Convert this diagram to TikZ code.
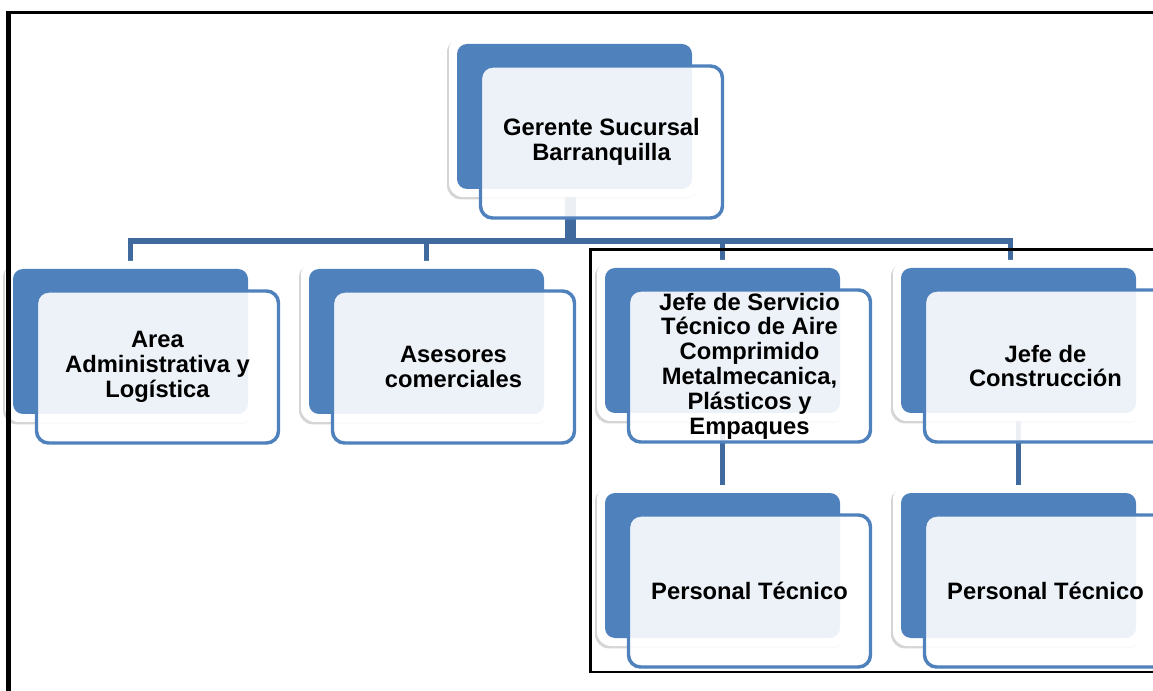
\documentclass[tikz,border=0pt]{standalone}
\usepackage{fontspec}
\setmainfont{Liberation Sans}
\usetikzlibrary{shadows}
\definecolor{accent}{RGB}{79,129,189}
\definecolor{linkblue}{RGB}{64,106,158}
\pgfdeclarelayer{bg}
\pgfsetlayers{bg,main}
\tikzset{
  glow/.style={rectangle, inner sep=0pt, rounded corners=10.5pt, fill=white,
    minimum width=188.25pt, minimum height=120.75pt,
    drop shadow={shadow xshift=-1.5pt, shadow yshift=-1.8pt, opacity=0.3, fill=black!55}},
  back/.style={rectangle, inner sep=0pt, rounded corners=7.5pt, fill=accent,
    minimum width=176.25pt, minimum height=108.75pt},
  front/.style={rectangle, inner sep=0pt, rounded corners=9pt, draw=accent,
    line width=2.6pt, fill=white, fill opacity=0.9, text opacity=1,
    minimum width=181.5pt, minimum height=114pt, align=center,
    font=\bfseries\fontsize{17.8pt}{18.6pt}\selectfont},
  conn/.style={draw=linkblue, line width=3.9pt},
  frame/.style={draw=black}
}
% one chart box: back plate with halo, and the framed label plate in front
% #1 name, #2/#3 top-left corner of the back plate, #4 label
\newcommand\orgunit[4]{%
  \node[glow] (#1G) at (#2+117.5,#3+72.5) {};
  \node[back] (#1B) at (#2+117.5,#3+72.5) {};
  \node[front] (#1) at (#2+144.5,#3+98) {#4};
}
\begin{document}
\begin{tikzpicture}[x=0.75pt,y=-0.75pt]
\useasboundingbox (0,0) rectangle (1153,691);
\clip (0,0) rectangle (1153,691);

\orgunit{top}{457}{44}{Gerente Sucursal\\Barranquilla}
\orgunit{area}{13}{269}{Area\\Administrativa y\\Logística}
\orgunit{ase}{309}{269}{Asesores\\comerciales}
\orgunit{js}{605}{268}{Jefe de Servicio\\Técnico de Aire\\Comprimido\\Metalmecanica,\\Plásticos y\\Empaques}
\orgunit{jc}{901}{268}{Jefe de\\Construcción}
\orgunit{jp}{605}{493}{Personal Técnico}
\orgunit{cp}{901}{493}{Personal Técnico}

\coordinate (bar) at (0,241);

\begin{pgfonlayer}{bg}
  % trunk from the manager down to the distribution bar
  \draw[conn, line width=8pt] ([xshift=-3pt]topB.south) -- ([xshift=-3pt]topB.south |- bar);
  % distribution bar with drops to the four areas
  \draw[conn] (areaB.north) -- (areaB.north |- bar) -- ([xshift=-6pt]jcB.north |- bar)
    -- ([xshift=-6pt]jcB.north);
  \draw[conn] (aseB.north |- bar) -- (aseB.north);
  \draw[conn] (jsB.north |- bar) -- (jsB.north);
  % chiefs to their technical staff
  \draw[conn] (jsB.south) -- (jpB.north);
  \draw[conn] (jcB.south) -- (cpB.north);
\end{pgfonlayer}

% group frame around the technical branches
\draw[frame, line width=2.2pt] (1160,672) -- (590.5,672) -- (590.5,249.5) -- (1160,249.5);
% page border
\draw[frame, line width=2.4pt] (6,12.5) -- (1160,12.5);
\draw[frame, line width=3.8pt] (8.5,11) -- (8.5,700);
\end{tikzpicture}
\end{document}
